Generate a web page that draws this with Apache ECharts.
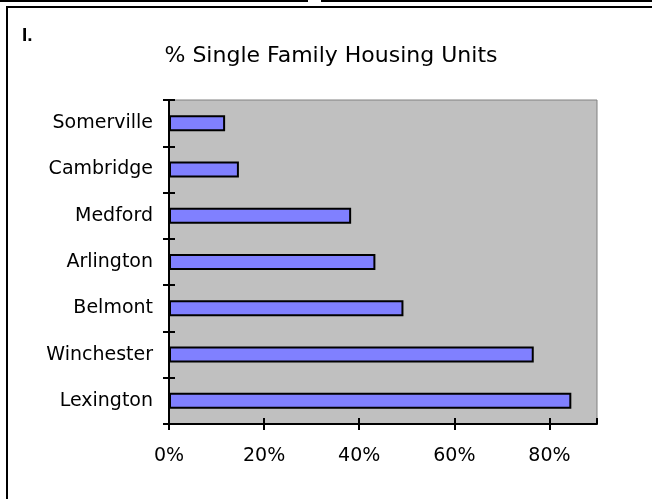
<!DOCTYPE html>
<html>
<head>
<meta charset="utf-8">
<script src="https://cdn.jsdelivr.net/npm/echarts@6/dist/echarts.min.js"></script>
<style>
  html, body { margin: 0; padding: 0; background: #fff; }
  #chart { width: 652px; height: 499px; }
</style>
</head>
<body>
<div id="chart"></div>
<script>
// bottom to top, as the category axis draws them
var towns = ['Lexington', 'Winchester', 'Belmont', 'Arlington', 'Medford', 'Cambridge', 'Somerville'];
var singleFamilyPct = [84.6, 76.7, 49.3, 43.4, 38.3, 14.7, 11.8];
var pctTicks = [0, 20, 40, 60, 80];

var chart = echarts.init(document.getElementById('chart'), null, { renderer: 'canvas' });

var labelFont = { color: '#000', fontFamily: 'DejaVu Sans', fontSize: 19 };

var option = {
  animation: false,
  backgroundColor: '#fff',
  grid: {
    left: 169, right: 55, top: 100, bottom: 75,
    show: true,
    backgroundColor: '#c0c0c0',
    borderColor: '#808080',
    borderWidth: 1
  },
  xAxis: [{
    type: 'value', position: 'bottom',
    min: 0, max: 90, interval: 20,
    splitLine: { show: false },
    axisLine: { show: true, lineStyle: { color: '#000', width: 2 } },
    axisTick: { show: true, length: 6, customValues: pctTicks, lineStyle: { color: '#000', width: 2 } },
    axisLabel: {
      customValues: pctTicks,
      formatter: '{value}%',
      margin: 23,
      color: labelFont.color, fontFamily: labelFont.fontFamily, fontSize: labelFont.fontSize
    }
  }, {
    // inner half of the crossing ticks
    type: 'value', position: 'bottom',
    min: 0, max: 90, interval: 20,
    splitLine: { show: false },
    axisLine: { show: false },
    axisTick: { show: true, inside: true, length: 6, lineStyle: { color: '#000', width: 2 } },
    axisLabel: { show: false }
  }],
  yAxis: [{
    type: 'category',
    data: towns,
    axisLine: { show: true, lineStyle: { color: '#000', width: 2 } },
    axisTick: { show: true, length: 6, lineStyle: { color: '#000', width: 2 } },
    axisLabel: {
      margin: 16,
      color: labelFont.color, fontFamily: labelFont.fontFamily, fontSize: labelFont.fontSize
    }
  }, {
    type: 'category', position: 'left',
    data: towns,
    axisLine: { show: false },
    axisTick: { show: true, inside: true, length: 6, lineStyle: { color: '#000', width: 2 } },
    axisLabel: { show: false }
  }],
  series: [{
    type: 'bar',
    xAxisIndex: 0,
    yAxisIndex: 0,
    data: singleFamilyPct,
    barWidth: 16,
    itemStyle: { color: '#8080ff', borderColor: '#000', borderWidth: 2 }
  }],
  graphic: [
    // page frame around the chart
    { type: 'line', shape: { x1: 0, y1: 1, x2: 307, y2: 1 }, style: { stroke: '#000', lineWidth: 2 } },
    { type: 'line', shape: { x1: 322, y1: 1, x2: 652, y2: 1 }, style: { stroke: '#000', lineWidth: 2 } },
    { type: 'line', shape: { x1: 168, y1: 0, x2: 168, y2: 2 }, style: { stroke: '#000', lineWidth: 2 } },
    { type: 'line', shape: { x1: 307, y1: 0, x2: 307, y2: 2 }, style: { stroke: '#000', lineWidth: 2 } },
    { type: 'line', shape: { x1: 322, y1: 0, x2: 322, y2: 2 }, style: { stroke: '#000', lineWidth: 2 } },
    { type: 'line', shape: { x1: 481, y1: 0, x2: 481, y2: 2 }, style: { stroke: '#000', lineWidth: 2 } },
    { type: 'line', shape: { x1: 6, y1: 7, x2: 652, y2: 7 }, style: { stroke: '#000', lineWidth: 2 } },
    { type: 'line', shape: { x1: 7, y1: 6, x2: 7, y2: 499 }, style: { stroke: '#000', lineWidth: 2 } },
    {
      type: 'text', left: 22, top: 26,
      style: { text: 'I.', fill: '#000', font: 'bold 19px "Liberation Sans", Arial' }
    },
    {
      type: 'text', x: 331, y: 56,
      style: {
        text: '% Single Family Housing Units', fill: '#000',
        font: '22px "DejaVu Sans"', textAlign: 'center', textVerticalAlign: 'middle'
      }
    }
  ]
};

chart.setOption(option);
</script>
</body>
</html>
